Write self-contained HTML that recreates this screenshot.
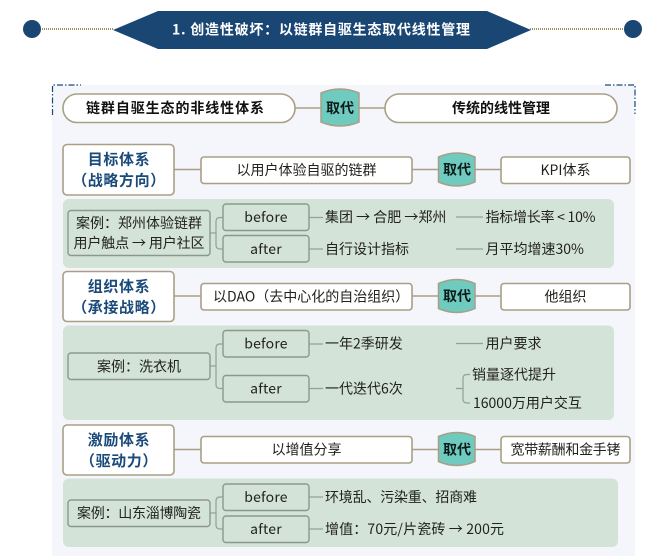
<!DOCTYPE html>
<html><head><meta charset="utf-8">
<style>
html,body{margin:0;padding:0;background:#fff;width:669px;height:556px;overflow:hidden}
svg{display:block;filter:blur(.3px)}
text{font-family:"Noto Sans CJK SC","Liberation Sans",sans-serif;font-size:14px;fill:#22221c;dominant-baseline:central}
.m{text-anchor:middle}
.b{font-weight:bold;fill:#111}
.h{font-weight:bold;fill:#1a4a7a;font-size:15px;text-anchor:middle;letter-spacing:.6px}
.q{font-weight:bold;fill:#0c1a1a;text-anchor:middle}
.w{fill:#fff;stroke:#a89f85;stroke-width:1.6}
.g{fill:#d3e3d7;stroke:#8b9a88;stroke-width:1.4}
.l{fill:none;stroke:#a89f85;stroke-width:1.4}
.l2{fill:none;stroke:#8fa394;stroke-width:1.2}
.t{fill:#6fcabf;stroke:#a89f85;stroke-width:1.5}
.e{letter-spacing:.2px}
</style></head>
<body>
<svg width="669" height="556" viewBox="0 0 669 556" xmlns="http://www.w3.org/2000/svg">
<rect width="669" height="556" fill="#fff"/>

<line x1="42" y1="29" x2="114" y2="29" stroke="#9a9268" stroke-width="2" stroke-dasharray="1 1"/>
<line x1="530" y1="29" x2="623" y2="29" stroke="#9a9268" stroke-width="2" stroke-dasharray="1 1"/>
<circle cx="32" cy="29" r="9" fill="#1a4674"/>
<circle cx="633" cy="29" r="9" fill="#1a4674"/>
<polygon points="113,30 158,11 487,11 531,30 487,49 158,49" fill="#1a4674"/>
<text x="321" y="29.500" class="m" style="fill:#fff;font-weight:bold;font-size:14px" textLength="298" lengthAdjust="spacing">1. 创造性破坏：以链群自驱生态取代线性管理</text>

<rect x="52" y="85" width="583" height="471" fill="#f4f6fb"/>
<path d="M52.500 115V85H81M605 85H635V114" fill="none" stroke="#1a4a7a" stroke-width="1.2" stroke-dasharray="6 2 1.500 2"/>

<!-- row 0 -->
<line x1="295" y1="108" x2="385" y2="108" class="l"/>
<rect x="63" y="94" width="232" height="28.500" rx="14" class="w"/>
<rect x="385" y="94" width="232" height="28.500" rx="14" class="w"/>
<path class="t" d="M321 93Q340 85 359 93V122Q340 130 321 122Z"/>
<text x="340" y="108" class="q">取代</text>
<text x="175" y="108" class="m b" textLength="178">链群自驱生态的非线性体系</text>
<text x="501" y="108" class="m b">传统的线性管理</text>

<!-- section 1 -->
<line x1="174" y1="169.500" x2="501" y2="169.500" class="l"/>
<rect x="63" y="144.500" width="111" height="50.500" rx="4" class="w"/>
<text x="119" y="159" class="h">目标体系</text>
<text x="119" y="180" class="h">（战略方向）</text>
<rect x="201" y="157" width="211" height="26.500" rx="3" class="w"/>
<text x="306.500" y="170" class="m">以用户体验自驱的链群</text>
<path class="t" d="M438.500 157Q457 149 475 157V182Q457 190 438.500 182Z"/>
<text x="457" y="169.500" class="q">取代</text>
<rect x="501" y="157" width="129" height="26.500" rx="3" class="w"/>
<text x="565.500" y="170" class="m">KPI体系</text>

<rect x="63" y="199" width="551" height="69" rx="6" fill="#d3e3d7"/>
<path class="l2" d="M210 233H216M223 217.500H220Q216 217.500 216 221.500V245Q216 249 220 249H223M309 217.500H323M309 249H323"/>
<rect x="68" y="210.500" width="142" height="45" rx="3" class="g"/>
<text x="139" y="223" class="m">案例：郑州体验链群</text>
<text x="139" y="243" class="m" textLength="131">用户触点 → 用户社区</text>
<rect x="223" y="204" width="86" height="26.500" rx="3" class="g"/>
<text x="266" y="217" class="m e">before</text>
<rect x="223" y="235.500" width="86" height="26.500" rx="3" class="g"/>
<text x="266" y="249" class="m e">after</text>
<text x="325" y="217">集团 → 合肥 →郑州</text>
<text x="325" y="249">自行设计指标</text>
<line x1="456" y1="217" x2="483" y2="217" class="l2"/>
<line x1="456" y1="249" x2="483" y2="249" class="l2"/>
<text x="485.500" y="217" textLength="110">指标增长率 &lt; 10%</text>
<text x="485.500" y="249">月平均增速30%</text>

<!-- section 2 -->
<line x1="174" y1="296" x2="501" y2="296" class="l"/>
<rect x="63" y="271.500" width="111" height="50" rx="4" class="w"/>
<text x="119" y="286" class="h">组织体系</text>
<text x="119" y="307" class="h">（承接战略）</text>
<rect x="201" y="283.500" width="211" height="26.500" rx="3" class="w"/>
<text x="213" y="296.500">以DAO（去中心化的自治组织）</text>
<path class="t" d="M438.500 283.500Q457 275.500 475 283.500V308.500Q457 316.500 438.500 308.500Z"/>
<text x="457" y="296" class="q">取代</text>
<rect x="501" y="283.500" width="129" height="26.500" rx="3" class="w"/>
<text x="565.500" y="296.500" class="m">他组织</text>

<rect x="63" y="325.500" width="551" height="94.500" rx="6" fill="#d3e3d7"/>
<path class="l2" d="M210 366H216M223 344H220Q216 344 216 348V384.500Q216 388.500 220 388.500H223M309 344H323M309 388.500H323"/>
<rect x="68" y="353" width="142" height="26.500" rx="3" class="g"/>
<text x="139" y="366.500" class="m">案例：洗衣机</text>
<rect x="223" y="330.500" width="86" height="26.500" rx="3" class="g"/>
<text x="266" y="343.500" class="m e">before</text>
<rect x="223" y="375.500" width="86" height="26.500" rx="3" class="g"/>
<text x="266" y="388.500" class="m e">after</text>
<text x="325" y="343.500">一年2季研发</text>
<text x="325" y="388.500">一代迭代6次</text>
<line x1="456" y1="343.500" x2="483" y2="343.500" class="l2"/>
<text x="485.500" y="343.500">用户要求</text>
<path class="l2" d="M456 388.500H463M470 374.500H467Q463 374.500 463 378.500V399Q463 403 467 403H470"/>
<text x="472" y="374.500">销量逐代提升</text>
<text x="473" y="403">16000万用户交互</text>

<!-- section 3 -->
<line x1="174" y1="449.500" x2="501" y2="449.500" class="l"/>
<rect x="63" y="425" width="111" height="50" rx="4" class="w"/>
<text x="119" y="439.500" class="h">激励体系</text>
<text x="119" y="460.500" class="h">（驱动力）</text>
<rect x="201" y="436.500" width="211" height="26.500" rx="3" class="w"/>
<text x="306.500" y="449.500" class="m">以增值分享</text>
<path class="t" d="M438.500 436.500Q457 428.500 475 436.500V461.500Q457 469.500 438.500 461.500Z"/>
<text x="457" y="449.500" class="q">取代</text>
<rect x="501" y="436.500" width="129" height="26.500" rx="3" class="w"/>
<text x="565.500" y="449.500" class="m" textLength="110">宽带薪酬和金手铐</text>

<rect x="63" y="478.500" width="555" height="68.500" rx="6" fill="#d3e3d7"/>
<path class="l2" d="M210 513H216M223 497H220Q216 497 216 501V525Q216 529 220 529H223M309 497H323M309 529H323"/>
<rect x="68" y="500" width="142" height="26.500" rx="3" class="g"/>
<text x="139" y="513" class="m" textLength="124">案例：山东淄博陶瓷</text>
<rect x="223" y="484" width="86" height="26.500" rx="3" class="g"/>
<text x="266" y="497" class="m e">before</text>
<rect x="223" y="516" width="86" height="26.500" rx="3" class="g"/>
<text x="266" y="529" class="m e">after</text>
<text x="325" y="497" textLength="152">环境乱、污染重、招商难</text>
<text x="325" y="529" textLength="179">增值：70元/片瓷砖 → 200元</text>
</svg>
</body></html>
